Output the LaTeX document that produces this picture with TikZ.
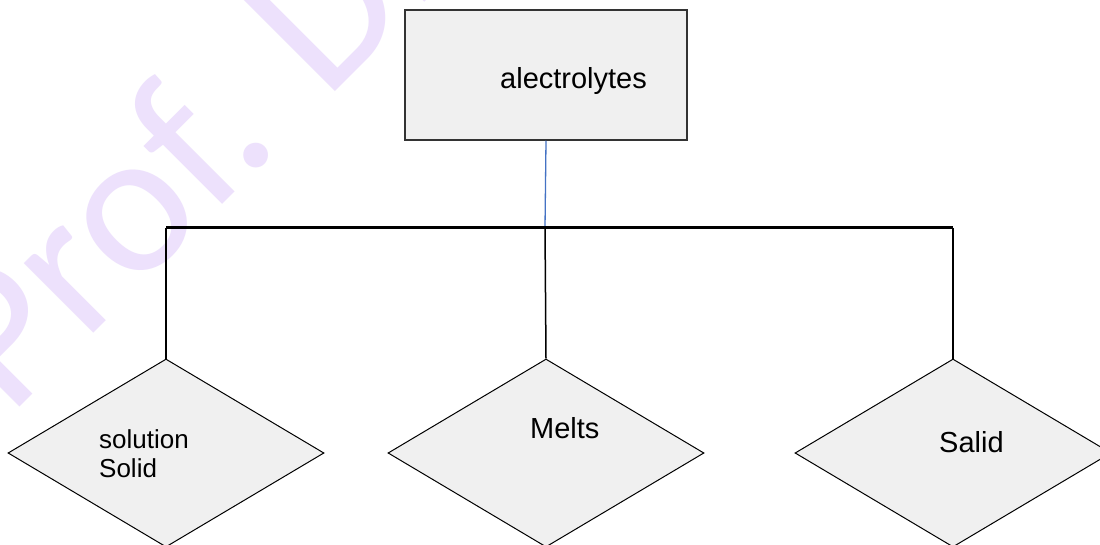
\documentclass[tikz,border=0pt]{standalone}
\usepackage{fontspec}
\setmainfont{Liberation Sans}
\newfontfamily\wmfont{Carlito}
\usetikzlibrary{shapes.geometric}
\definecolor{boxfill}{HTML}{F0F0F0}
\definecolor{wmcol}{RGB}{237,225,252}
\definecolor{linkblue}{HTML}{4472C4}
\definecolor{boxedge}{HTML}{333333}
\begin{document}
\begin{tikzpicture}[x=1pt,y=-1pt,
  topbox/.style={draw=boxedge, line width=1.5pt, fill=boxfill, minimum width=282pt, minimum height=130pt, inner sep=0pt},
  choice/.style={diamond, draw=black, line width=1pt, fill=boxfill, aspect=1.68, minimum width=316pt, minimum height=188pt, inner sep=0pt},
  lbl/.style={inner sep=0pt, font=\fontsize{29}{29}\selectfont},
  bar/.style={line width=3pt, black},
  drop/.style={line width=1.5pt, black},
  link/.style={line width=1.3pt, linkblue}]
\useasboundingbox (0,0) rectangle (1100,545);
\clip (0,0) rectangle (1100,545);
\fill[white] (0,0) rectangle (1100,545);
\node[rotate=45, anchor=base west, inner sep=0pt, text=wmcol, font=\wmfont\fontsize{206}{206}\selectfont] (wm) at (9.5,417.5) {Prof. Dr.};
\node[topbox] (top) at (546,75) {};
\node[lbl, anchor=base west] (toplbl) at (500,89) {alectrolytes};
\coordinate (bL) at (166,228);
\coordinate (bM) at (545,228);
\coordinate (bR) at (953,228);
\node[choice] (d1) at (166,453) {};
\node[choice] (d2) at (546,453) {};
\node[choice] (d3) at (953,453) {};
\draw[link] (top.south) -- (bM);
\draw[bar] (bL) -- (bR);
\draw[drop] (bL) -- (d1.north);
\draw[drop] (bM) -- (d2.north);
\draw[drop] (bR) -- (d3.north);
\node[inner sep=0pt, anchor=north west, align=left, font=\fontsize{26}{29}\selectfont] (d1lbl) at (99,429.5) {solution\\Solid};
\node[lbl, anchor=base west] (d2lbl) at (530,438) {Melts};
\node[lbl, anchor=base west] (d3lbl) at (939,452) {Salid};
\end{tikzpicture}
\end{document}
